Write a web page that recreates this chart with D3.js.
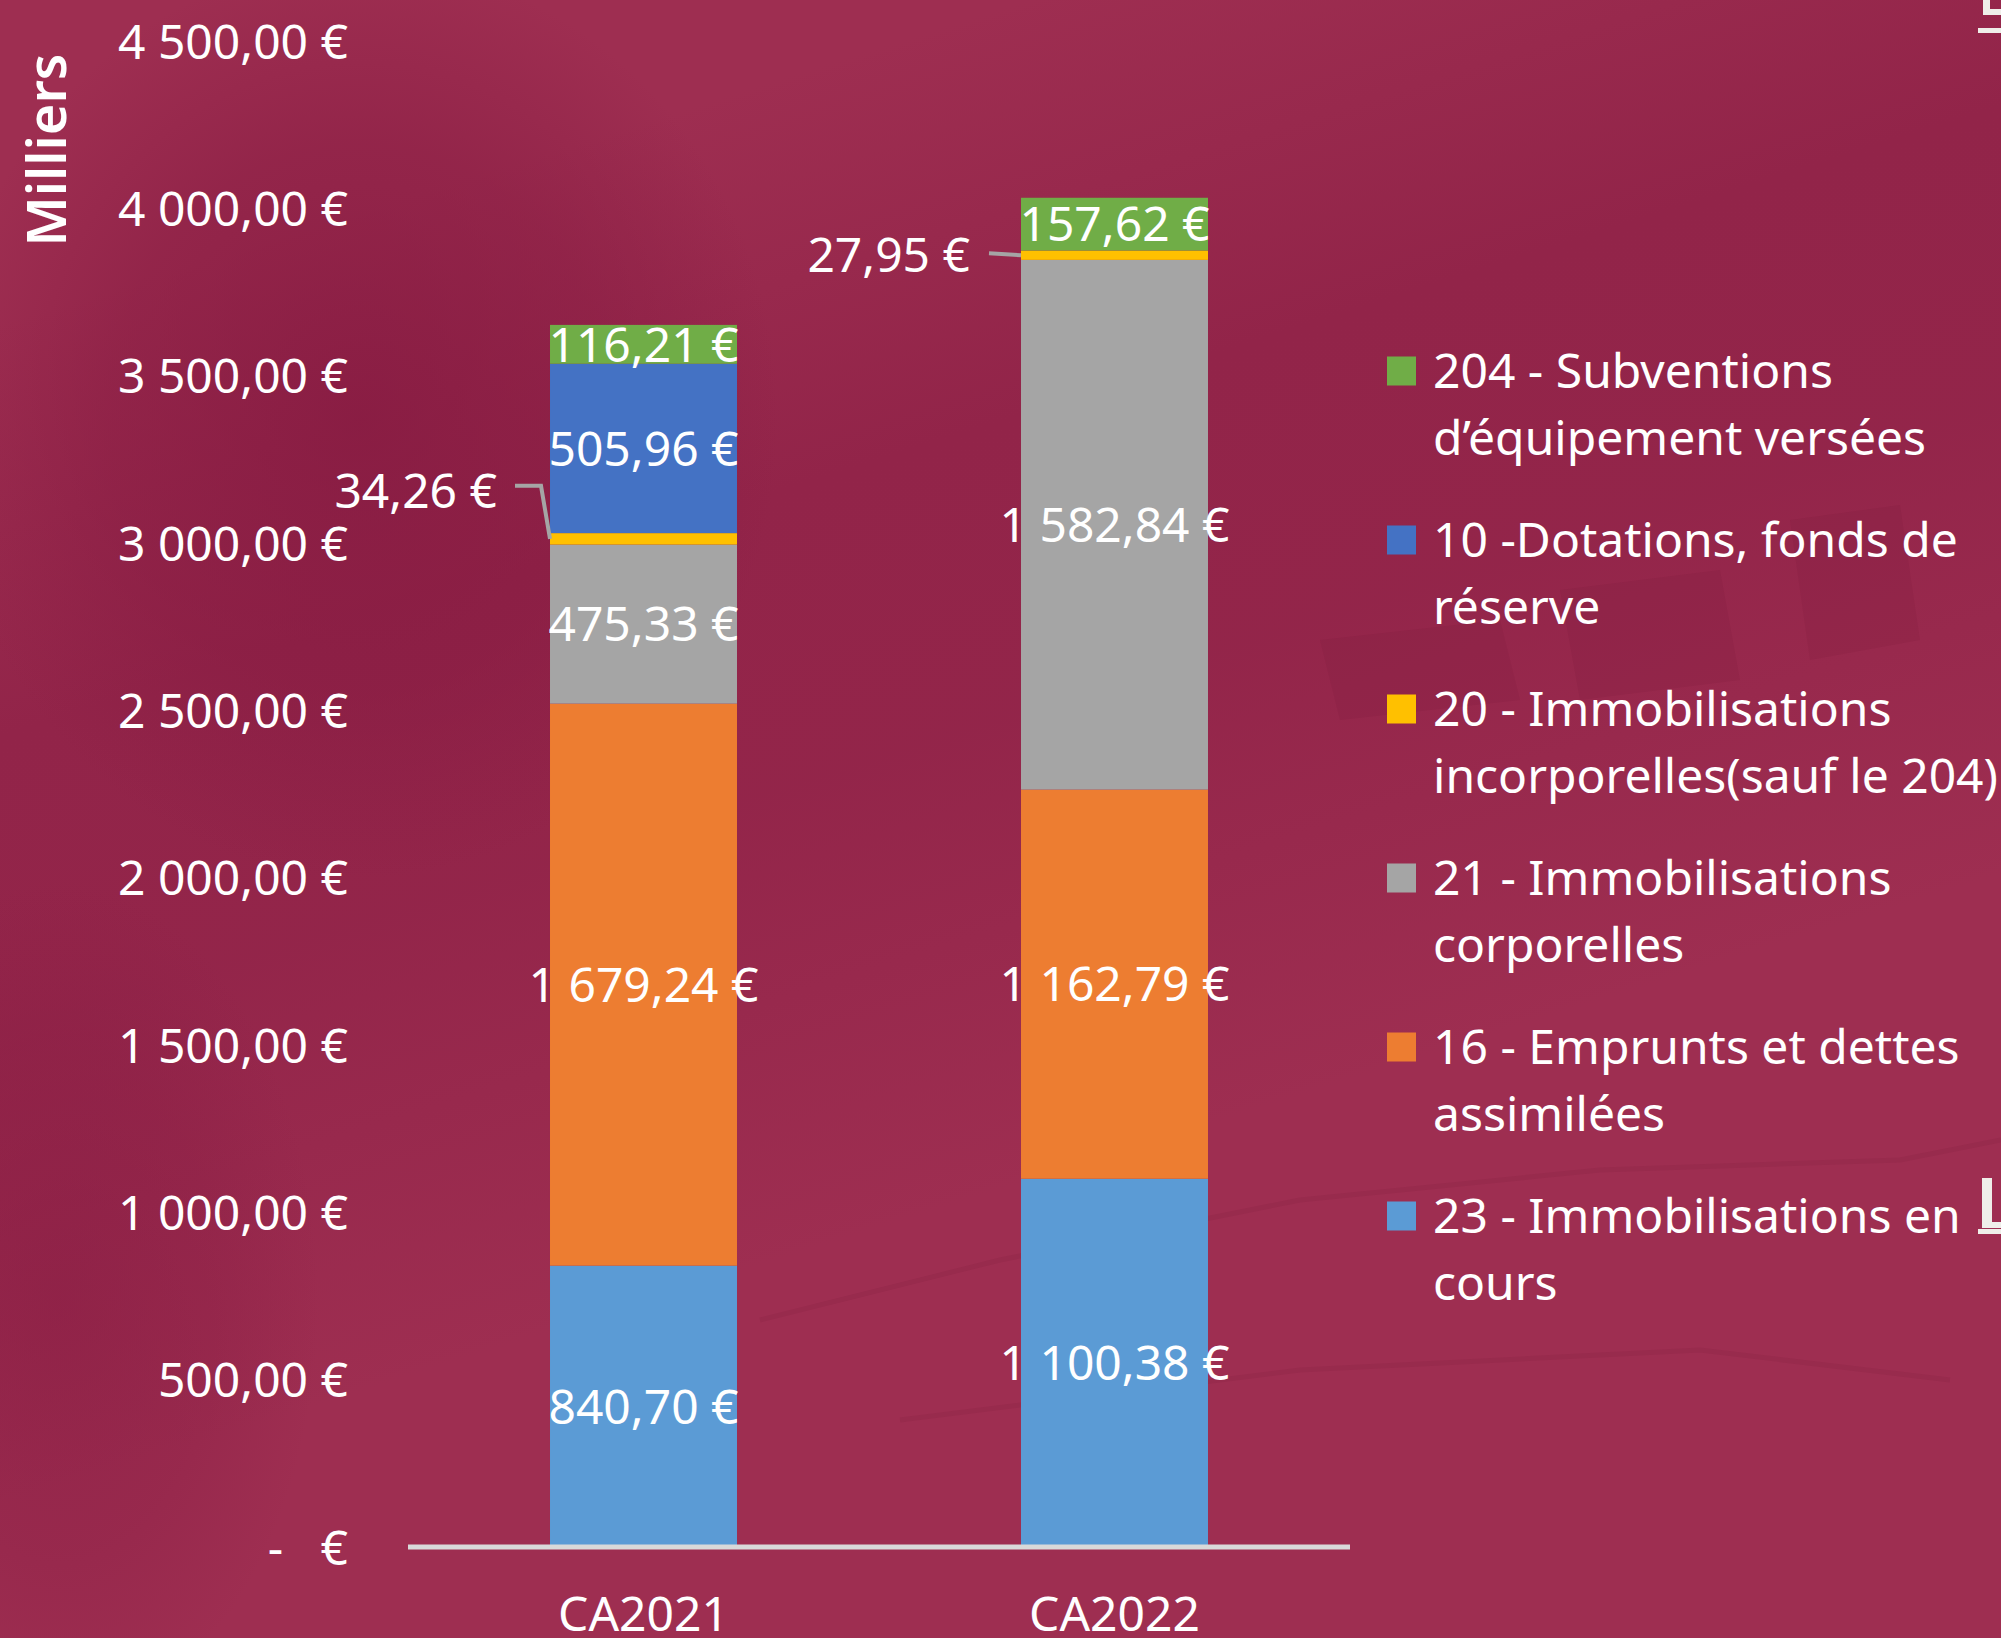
<!DOCTYPE html>
<html>
<head>
<meta charset="utf-8">
<script src="https://cdn.jsdelivr.net/npm/d3@7/dist/d3.min.js"></script>
<style>
body { margin: 0; background: #9d2d50; }
svg { display: block; font-family: "Noto Sans", "Open Sans", sans-serif; }
</style>
</head>
<body>
<svg width="2001" height="1638"></svg>
<script>
// data (values in thousands of euros, stacked bottom -> top)
var categories = ["CA2021", "CA2022"];
var seriesKeys = ["23", "16", "21", "20", "10", "204"];
var seriesNames = [
    "23 - Immobilisations en cours",
    "16 - Emprunts et dettes assimilées",
    "21 - Immobilisations corporelles",
    "20 - Immobilisations incorporelles(sauf le 204)",
    "10 -Dotations, fonds de réserve",
    "204 - Subventions d’équipement versées"
];
var legendLines = [
    ["23 - Immobilisations en", "cours"],
    ["16 - Emprunts et dettes", "assimilées"],
    ["21 - Immobilisations", "corporelles"],
    ["20 - Immobilisations", "incorporelles(sauf le 204)"],
    ["10 -Dotations, fonds de", "réserve"],
    ["204 - Subventions", "d’équipement versées"]
];
var seriesColors = ["#5b9bd5", "#ed7d31", "#a5a5a5", "#ffc000", "#4472c4", "#70ad47"];
var valuesCA2021 = [840.70, 1679.24, 475.33, 34.26, 505.96, 116.21];
var valuesCA2022 = [1100.38, 1162.79, 1582.84, 27.95, 0, 157.62];
var yTicks = [0, 500, 1000, 1500, 2000, 2500, 3000, 3500, 4000, 4500];
var yTitle = "Milliers";

var svg = d3.select("svg"),
    width = +svg.attr("width"),
    height = +svg.attr("height");

var fr = d3.formatLocale({ decimal: ",", thousands: "\u00a0", grouping: [3], currency: ["", "\u00a0€"] });
var euro = fr.format("$,.2f");
var tickFmt = function(v) { return v === 0 ? "-\u00a0\u00a0\u00a0€" : euro(v); };

// background texture (soft gradients)
var defs = svg.append("defs");
var blob = defs.append("radialGradient").attr("id", "blob");
blob.append("stop").attr("offset", "0%").attr("stop-color", "#861a41").attr("stop-opacity", 0.8);
blob.append("stop").attr("offset", "60%").attr("stop-color", "#861a41").attr("stop-opacity", 0.45);
blob.append("stop").attr("offset", "100%").attr("stop-color", "#861a41").attr("stop-opacity", 0);

var band = defs.append("linearGradient").attr("id", "band")
    .attr("gradientUnits", "userSpaceOnUse")
    .attr("x1", 830).attr("y1", 60).attr("x2", 1170).attr("y2", 1140);
band.append("stop").attr("offset", "0%").attr("stop-color", "#861a41").attr("stop-opacity", 0);
band.append("stop").attr("offset", "35%").attr("stop-color", "#861a41").attr("stop-opacity", 0.5);
band.append("stop").attr("offset", "60%").attr("stop-color", "#861a41").attr("stop-opacity", 0.45);
band.append("stop").attr("offset", "100%").attr("stop-color", "#861a41").attr("stop-opacity", 0);

var bg = svg.append("g").attr("class", "background");
bg.append("rect").attr("width", width).attr("height", height).attr("fill", "#9e2e51");
bg.append("rect").attr("width", width).attr("height", height).attr("fill", "url(#band)");
bg.append("ellipse").attr("cx", 360).attr("cy", 420).attr("rx", 420).attr("ry", 460).attr("fill", "url(#blob)");
bg.append("ellipse").attr("cx", 60).attr("cy", 1300).attr("rx", 260).attr("ry", 420).attr("fill", "url(#blob)").attr("opacity", 0.6);
var faint = bg.append("g").attr("opacity", 0.08);
faint.append("path").attr("d", "M1320,640 L1500,620 L1520,700 L1340,720 Z M1560,590 L1720,570 L1740,680 L1580,700 Z M1790,520 L1900,505 L1920,640 L1810,660 Z")
    .attr("fill", "#5e0a2c");
faint.append("path").attr("d", "M760,1320 L1000,1260 L1300,1200 L1600,1170 L1900,1160 L2001,1140 M900,1420 L1300,1370 L1700,1350 L1950,1380")
    .attr("fill", "none").attr("stroke", "#5e0a2c").attr("stroke-width", 5);

// scales
var x = d3.scaleBand()
    .domain(categories)
    .range([408, 1350])
    .paddingInner(0.603)
    .paddingOuter(0.3015);

var y = d3.scaleLinear()
    .domain([0, 4500])
    .range([1547, 41]);

var table = categories.map(function(c, i) {
    var row = { category: c };
    var vals = i === 0 ? valuesCA2021 : valuesCA2022;
    seriesKeys.forEach(function(k, j) { row[k] = vals[j]; });
    return row;
});

var stack = d3.stack().keys(seriesKeys)(table);

// y axis
var yAxis = svg.append("g")
    .attr("transform", "translate(348,0)")
    .call(d3.axisLeft(y).tickValues(yTicks).tickFormat(tickFmt).tickSize(0).tickPadding(0));
yAxis.select(".domain").remove();
yAxis.selectAll("text")
    .attr("fill", "#ffffff")
    .attr("dy", "0.36em")
    .style("font-size", "48px")
    .style("font-family", "'Noto Sans', sans-serif");

svg.append("text")
    .attr("transform", "translate(66,150) rotate(-90)")
    .attr("text-anchor", "middle")
    .attr("fill", "#ffffff")
    .style("font-size", "54px")
    .style("font-weight", 600)
    .text(yTitle);

// bars
var layers = svg.append("g").selectAll("g")
    .data(stack)
    .enter().append("g")
    .attr("fill", function(d, i) { return seriesColors[i]; });

layers.selectAll("rect")
    .data(function(d) { return d; })
    .enter().append("rect")
    .attr("x", function(d) { return x(d.data.category); })
    .attr("width", x.bandwidth())
    .attr("y", function(d) { return y(d[1]); })
    .attr("height", function(d) { return y(d[0]) - y(d[1]); });

// baseline
svg.append("line")
    .attr("x1", x.range()[0]).attr("x2", x.range()[1])
    .attr("y1", y(0)).attr("y2", y(0))
    .attr("stroke", "#d9d9d9")
    .attr("stroke-width", 5);

// x labels
var xAxis = svg.append("g")
    .attr("transform", "translate(0," + y(0) + ")")
    .call(d3.axisBottom(x).tickSize(0).tickPadding(0));
xAxis.select(".domain").remove();
xAxis.selectAll("text")
    .attr("y", 84)
    .attr("dy", 0)
    .attr("fill", "#ffffff")
    .style("font-size", "48px")
    .style("font-family", "'Noto Sans', sans-serif");

// data labels
var labels = svg.append("g").attr("fill", "#ffffff").style("font-size", "48px");
stack.forEach(function(layer, si) {
    layer.forEach(function(d, ci) {
        var v = d[1] - d[0];
        if (v <= 0) return;
        var ym = y((d[0] + d[1]) / 2);
        var x0 = x(d.data.category);
        if (seriesKeys[si] === "20") {
            // small segment: label outside with leader line
            var pts, lx, ly;
            if (ci === 0) {
                pts = [[x0 - 35, ym - 53], [x0 - 9, ym - 53], [x0, ym]];
                lx = x0 - 53; ly = ym - 48;
            } else {
                pts = [[x0 - 32, ym - 2], [x0, ym]];
                lx = x0 - 51; ly = ym;
            }
            svg.append("path")
                .attr("d", d3.line()(pts))
                .attr("fill", "none")
                .attr("stroke", "#a5a5a5")
                .attr("stroke-width", 4);
            labels.append("text")
                .attr("x", lx).attr("y", ly)
                .attr("dy", "0.36em")
                .attr("text-anchor", "end")
                .text(euro(v));
        } else {
            labels.append("text")
                .attr("x", x0 + x.bandwidth() / 2).attr("y", ym)
                .attr("dy", "0.36em")
                .attr("text-anchor", "middle")
                .text(euro(v));
        }
    });
});

// legend (top item = last series)
var legend = svg.append("g").attr("transform", "translate(1387,371)");
var item = legend.selectAll("g")
    .data(seriesKeys.map(function(k, i) { return i; }).reverse())
    .enter().append("g")
    .attr("transform", function(d, i) { return "translate(0," + (i * 169) + ")"; });

item.append("rect")
    .attr("x", 0).attr("y", -14.5)
    .attr("width", 29).attr("height", 29)
    .attr("fill", function(i) { return seriesColors[i]; });

item.append("text")
    .attr("x", 46)
    .attr("fill", "#ffffff")
    .style("font-size", "48px")
    .selectAll("tspan")
    .data(function(i) { return legendLines[i]; })
    .enter().append("tspan")
    .attr("x", 46)
    .attr("y", function(d, j) { return j * 67; })
    .attr("dy", "0.36em")
    .text(function(d) { return d; });

// edge decorations (cut-off glyphs at the right border)
var deco = svg.append("g").attr("fill", "#efeee9");
deco.append("path").attr("d", "M1983,0 L1990,0 L1990,9 L2001,9 L2001,15 L1983,15 Z");
deco.append("rect").attr("x", 1978).attr("y", 28).attr("width", 23).attr("height", 5);
deco.append("path").attr("d", "M1982,1178 L1992,1178 L1992,1222 L2001,1222 L2001,1228 L1982,1228 Z");
deco.append("rect").attr("x", 1978).attr("y", 1229).attr("width", 23).attr("height", 5);
</script>
</body>
</html>
